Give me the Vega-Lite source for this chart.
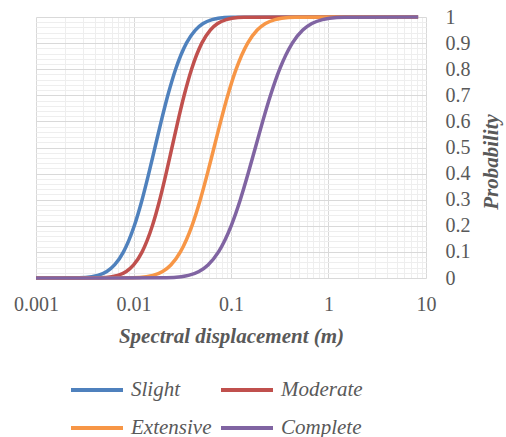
{
  "$schema": "https://vega.github.io/schema/vega-lite/v6.json",
  "autosize": "none",
  "width": 390,
  "height": 261,
  "padding": {"left": 36, "top": 17, "right": 80, "bottom": 159},
  "background": "white",
  "config": {
    "view": {"stroke": null},
    "axis": {"domain": false, "ticks": false, "tickSize": 0, "labelFont": "Liberation Serif", "labelFontSize": 20, "labelColor": "#595959", "titleFont": "Liberation Serif", "titleFontSize": 21, "titleColor": "#595959", "titleFontWeight": "bold", "titleFontStyle": "italic", "gridWidth": 1}
  },
  "data": {"values": [
    {"s": "Slight", "x": 0.001, "p": 0},
    {"s": "Slight", "x": 0.002766, "p": 0.001},
    {"s": "Slight", "x": 0.003727, "p": 0.005},
    {"s": "Slight", "x": 0.004308, "p": 0.01},
    {"s": "Slight", "x": 0.005325, "p": 0.025},
    {"s": "Slight", "x": 0.006394, "p": 0.05},
    {"s": "Slight", "x": 0.007897, "p": 0.1},
    {"s": "Slight", "x": 0.01019, "p": 0.2},
    {"s": "Slight", "x": 0.01225, "p": 0.3},
    {"s": "Slight", "x": 0.01433, "p": 0.4},
    {"s": "Slight", "x": 0.0166, "p": 0.5},
    {"s": "Slight", "x": 0.01923, "p": 0.6},
    {"s": "Slight", "x": 0.0225, "p": 0.7},
    {"s": "Slight", "x": 0.02704, "p": 0.8},
    {"s": "Slight", "x": 0.0349, "p": 0.9},
    {"s": "Slight", "x": 0.0431, "p": 0.95},
    {"s": "Slight", "x": 0.05175, "p": 0.975},
    {"s": "Slight", "x": 0.06397, "p": 0.99},
    {"s": "Slight", "x": 0.07395, "p": 0.995},
    {"s": "Slight", "x": 0.09963, "p": 0.999},
    {"s": "Slight", "x": 8.3, "p": 1},
    {"s": "Moderate", "x": 0.001, "p": 0},
    {"s": "Moderate", "x": 0.004533, "p": 0.001},
    {"s": "Moderate", "x": 0.006014, "p": 0.005},
    {"s": "Moderate", "x": 0.006899, "p": 0.01},
    {"s": "Moderate", "x": 0.008439, "p": 0.025},
    {"s": "Moderate", "x": 0.01003, "p": 0.05},
    {"s": "Moderate", "x": 0.01226, "p": 0.1},
    {"s": "Moderate", "x": 0.01561, "p": 0.2},
    {"s": "Moderate", "x": 0.01859, "p": 0.3},
    {"s": "Moderate", "x": 0.02158, "p": 0.4},
    {"s": "Moderate", "x": 0.0248, "p": 0.5},
    {"s": "Moderate", "x": 0.02851, "p": 0.6},
    {"s": "Moderate", "x": 0.03309, "p": 0.7},
    {"s": "Moderate", "x": 0.0394, "p": 0.8},
    {"s": "Moderate", "x": 0.05019, "p": 0.9},
    {"s": "Moderate", "x": 0.06129, "p": 0.95},
    {"s": "Moderate", "x": 0.07288, "p": 0.975},
    {"s": "Moderate", "x": 0.08913, "p": 0.99},
    {"s": "Moderate", "x": 0.1023, "p": 0.995},
    {"s": "Moderate", "x": 0.1357, "p": 0.999},
    {"s": "Moderate", "x": 8.3, "p": 1},
    {"s": "Extensive", "x": 0.001, "p": 0},
    {"s": "Extensive", "x": 0.009869, "p": 0.001},
    {"s": "Extensive", "x": 0.01357, "p": 0.005},
    {"s": "Extensive", "x": 0.01584, "p": 0.01},
    {"s": "Extensive", "x": 0.01988, "p": 0.025},
    {"s": "Extensive", "x": 0.02416, "p": 0.05},
    {"s": "Extensive", "x": 0.03027, "p": 0.1},
    {"s": "Extensive", "x": 0.03976, "p": 0.2},
    {"s": "Extensive", "x": 0.04841, "p": 0.3},
    {"s": "Extensive", "x": 0.05726, "p": 0.4},
    {"s": "Extensive", "x": 0.067, "p": 0.5},
    {"s": "Extensive", "x": 0.07839, "p": 0.6},
    {"s": "Extensive", "x": 0.09274, "p": 0.7},
    {"s": "Extensive", "x": 0.1129, "p": 0.8},
    {"s": "Extensive", "x": 0.1483, "p": 0.9},
    {"s": "Extensive", "x": 0.1858, "p": 0.95},
    {"s": "Extensive", "x": 0.2258, "p": 0.975},
    {"s": "Extensive", "x": 0.2834, "p": 0.99},
    {"s": "Extensive", "x": 0.3309, "p": 0.995},
    {"s": "Extensive", "x": 0.455, "p": 0.999},
    {"s": "Extensive", "x": 8.3, "p": 1},
    {"s": "Complete", "x": 0.001, "p": 0},
    {"s": "Complete", "x": 0.02177, "p": 0.001},
    {"s": "Complete", "x": 0.03088, "p": 0.005},
    {"s": "Complete", "x": 0.0366, "p": 0.01},
    {"s": "Complete", "x": 0.04694, "p": 0.025},
    {"s": "Complete", "x": 0.05815, "p": 0.05},
    {"s": "Complete", "x": 0.07446, "p": 0.1},
    {"s": "Complete", "x": 0.1004, "p": 0.2},
    {"s": "Complete", "x": 0.1246, "p": 0.3},
    {"s": "Complete", "x": 0.1498, "p": 0.4},
    {"s": "Complete", "x": 0.178, "p": 0.5},
    {"s": "Complete", "x": 0.2114, "p": 0.6},
    {"s": "Complete", "x": 0.2543, "p": 0.7},
    {"s": "Complete", "x": 0.3155, "p": 0.8},
    {"s": "Complete", "x": 0.4255, "p": 0.9},
    {"s": "Complete", "x": 0.5448, "p": 0.95},
    {"s": "Complete", "x": 0.675, "p": 0.975},
    {"s": "Complete", "x": 0.8656, "p": 0.99},
    {"s": "Complete", "x": 1.0256, "p": 0.995},
    {"s": "Complete", "x": 1.4554, "p": 0.999},
    {"s": "Complete", "x": 8.3, "p": 1}
  ]},
  "mark": {"type": "line", "interpolate": "monotone", "strokeWidth": 3.5},
  "encoding": {
    "x": {
      "field": "x", "type": "quantitative",
      "scale": {"type": "log", "domain": [0.001, 10], "nice": false},
      "axis": {
        "values": [0.001,0.002,0.003,0.004,0.005,0.006,0.007,0.008,0.009,0.01,0.02,0.03,0.04,0.05,0.06,0.07,0.08,0.09,0.1,0.2,0.3,0.4,0.5,0.6,0.7,0.8,0.9,1,2,3,4,5,6,7,8,9,10],
        "format": "~g",
        "labelExpr": "abs(log(datum.value)/LN10 - round(log(datum.value)/LN10)) < 1e-6 ? datum.label : ''",
        "labelOverlap": false,
        "labelFlush": false,
        "labelBound": false,
        "labelBaseline": "alphabetic",
        "labelPadding": 32,
        "grid": true,
        "gridColor": {"condition": {"test": "abs(log(datum.value)/LN10 - round(log(datum.value)/LN10)) < 1e-6", "value": "#D9D9D9"}, "value": "#EEEEEE"},
        "title": "Spectral displacement (m)",
        "titleBaseline": "alphabetic",
        "titleY": 64,
        "titleX": 195
      }
    },
    "y": {
      "field": "p", "type": "quantitative",
      "scale": {"domain": [0, 1], "nice": false},
      "axis": {
        "orient": "right",
        "values": [0,0.02,0.04,0.06,0.08,0.1,0.12,0.14,0.16,0.18,0.2,0.22,0.24,0.26,0.28,0.3,0.32,0.34,0.36,0.38,0.4,0.42,0.44,0.46,0.48,0.5,0.52,0.54,0.56,0.58,0.6,0.62,0.64,0.66,0.68,0.7,0.72,0.74,0.76,0.78,0.8,0.82,0.84,0.86,0.88,0.9,0.92,0.94,0.96,0.98,1],
        "format": "~g",
        "labelExpr": "abs(datum.value*10 - round(datum.value*10)) < 1e-6 ? datum.label : ''",
        "labelOverlap": false,
        "labelFlush": false,
        "labelBound": false,
        "labelAlign": "left",
        "labelPadding": 19,
        "grid": true,
        "gridColor": {"condition": {"test": "abs(datum.value*10 - round(datum.value*10)) < 1e-6", "value": "#D9D9D9"}, "value": "#EEEEEE"},
        "title": "Probability",
        "titleAngle": 270,
        "titleAlign": "center",
        "titleBaseline": "alphabetic",
        "titleX": 71,
        "titleY": 144.5
      }
    },
    "color": {
      "field": "s", "type": "nominal",
      "scale": {"domain": ["Slight", "Moderate", "Extensive", "Complete"], "range": ["#4F81BD", "#C0504D", "#F79646", "#8064A2"]},
      "legend": {
        "title": null,
        "orient": "none",
        "legendX": 33,
        "legendY": 345,
        "direction": "horizontal",
        "columns": 2,
        "columnPadding": 1,
        "rowPadding": -13,
        "symbolType": "stroke",
        "symbolSize": 2704,
        "symbolStrokeWidth": 4,
        "labelOffset": 6,
        "labelFont": "Liberation Serif",
        "labelFontSize": 21,
        "labelFontStyle": "italic",
        "labelColor": "#595959",
        "labelLimit": 200
      }
    }
  }
}
